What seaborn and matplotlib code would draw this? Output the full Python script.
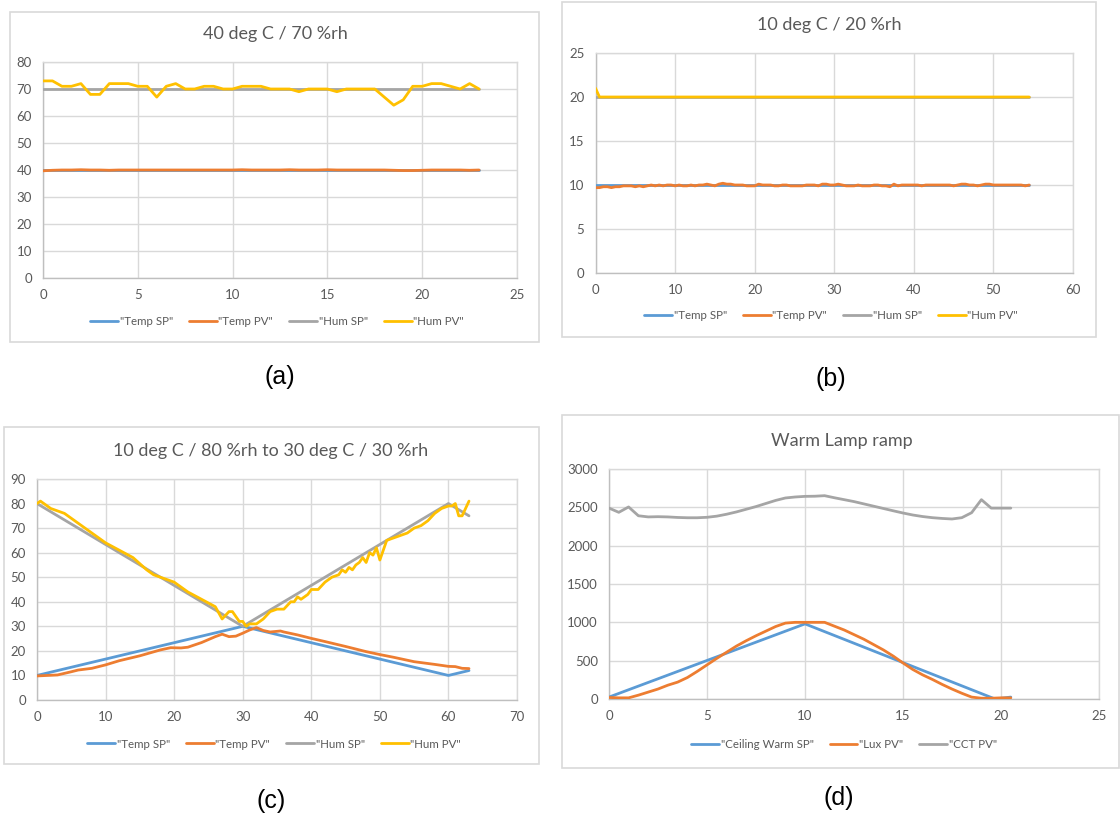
import numpy as np
import pandas as pd
import matplotlib
matplotlib.use("Agg")
import matplotlib.pyplot as plt
from matplotlib.patches import Rectangle
from matplotlib.lines import Line2D
import seaborn as sns

# ---------------- data ----------------
# (a) 40 deg C / 70 %rh
a_x = np.arange(0, 23.01, 0.5)
a_temp_sp_x = [0, 23]
a_temp_sp = [40, 40]
a_temp_pv = [39.7, 39.9, 40.0, 40.0, 40.1, 40.0, 40.0, 39.9, 40.0, 40.0,
             40.0, 40.0, 40.0, 40.0, 40.0, 40.0, 40.0, 40.0, 40.0, 40.0,
             40.0, 40.1, 40.0, 40.0, 40.0, 40.0, 40.1, 40.0, 40.0, 40.0,
             40.1, 40.0, 40.0, 40.0, 40.0, 40.0, 40.0, 39.9, 39.8, 39.8,
             39.9, 40.0, 40.0, 40.0, 40.0, 39.9, 40.0]
a_hum_sp_x = [0, 23]
a_hum_sp = [70, 70]
a_hum_pv = [73, 73, 71, 71, 72, 68, 68, 72, 72, 72,
            71, 71, 67, 71, 72, 70, 70, 71, 71, 70,
            70, 71, 71, 71, 70, 70, 70, 69, 70, 70,
            70, 69, 70, 70, 70, 70, 67, 64, 66, 71,
            71, 72, 72, 71, 70, 72, 70]

# (b) 10 deg C / 20 %rh
b_x = np.arange(0, 54.51, 0.5)
b_temp_sp_x = [0, 54.5]
b_temp_sp = [10, 10]
b_temp_pv = [9.7, 9.7, 9.8, 9.8, 9.7, 9.8, 9.8, 9.9, 9.9, 9.9, 9.8, 9.9, 9.8, 9.9, 10.0,
             9.9, 10.0, 9.9, 10.0, 10.0, 9.9, 10.0, 9.9, 9.9, 10.0, 9.9, 10.0, 10.0, 10.1, 10.0, 9.9,
             10.1, 10.2, 10.1, 10.1, 10.0, 10.0, 10.0, 9.9, 9.9, 9.9, 10.1, 10.0, 10.0, 10.0, 9.9, 9.9,
             10.0, 10.0, 9.9, 9.9, 9.9, 9.9, 10.0, 10.0, 10.0, 9.9, 10.1, 10.1, 10.0, 10.0, 10.1, 10.0,
             9.9, 9.9, 9.9, 10.0, 9.9, 9.9, 9.9, 10.0, 10.0, 9.9, 9.9, 9.8, 10.1, 9.9, 10.0, 10.0,
             10.0, 10.0, 10.0, 9.9, 10.0, 10.0, 10.0, 10.0, 10.0, 10.0, 10.0, 9.9, 10.0, 10.1, 10.1, 10.0,
             10.0, 9.9, 10.0, 10.1, 10.1, 10.0, 10.0, 10.0, 10.0, 10.0, 10.0, 10.0, 10.0, 9.9, 10.0]
b_hum_sp_x = [0, 54.5]
b_hum_sp = [20, 20]
b_hum_pv_x = [0, 0.5, 54.5]
b_hum_pv = [21, 20, 20]

# (c) 10 deg C / 80 %rh to 30 deg C / 30 %rh
c_temp_sp_x = [0, 30, 60, 63]
c_temp_sp = [10, 30, 10, 12]
c_temp_pv_x = [0, 3, 5, 6, 8, 10, 12, 15, 18, 19.5, 21, 22, 24, 26, 27, 28, 29, 30,
               31, 32, 33, 34, 35.5, 36, 38, 40, 42, 45, 48, 50, 52, 55, 58, 60, 61, 62, 63]
c_temp_pv = [9.8, 10.2, 11.5, 12.2, 12.9, 14.3, 16.0, 18.0, 20.4, 21.3, 21.2, 21.5, 23.4,
             25.8, 26.8, 25.8, 26.0, 27.2, 28.5, 29.5, 28.3, 27.7, 28.1, 27.7, 26.5, 25.1,
             23.8, 21.8, 19.7, 18.5, 17.4, 15.6, 14.5, 13.7, 13.6, 12.9, 12.8]
c_hum_sp_x = [0, 30, 60, 63]
c_hum_sp = [80, 30, 80, 75]
c_hum_pv_x = [0, 0.5, 2, 4, 6, 7, 8, 10, 12, 14, 16, 17, 19, 20, 22, 24, 26, 27, 28, 28.5,
              29.5, 30, 30.5, 31, 32, 33, 34, 35, 36, 37, 37.5, 38, 38.5, 39, 39.5, 40, 41,
              42, 43, 44, 44.5, 45, 45.5, 46, 46.5, 47, 47.5, 48, 48.5, 49, 49.5, 50, 50.5,
              51, 52, 53, 54, 55, 56, 57, 58, 59, 60, 60.5, 61, 61.5, 62, 63]
c_hum_pv = [80, 81, 78, 76, 72, 70, 68, 64, 61, 58, 53, 51, 49, 48, 44, 41, 38, 33, 36, 36,
            32, 32, 30, 31, 31, 33, 36, 37, 37, 40, 40, 42, 41, 42, 43, 45, 45,
            48, 50, 51, 53, 52, 54, 53, 55, 56, 58, 56, 60, 59, 62, 57, 61,
            65, 66, 67, 68, 70, 71, 73, 76, 78, 79, 79, 80, 75, 75, 81]

# (d) Warm Lamp ramp
d_x = np.arange(0, 20.51, 0.5)
d_sp_x = [0, 10, 19.7, 20.5]
d_sp = [25, 980, 0, 25]
d_lux = [20, 15, 15, 50, 90, 130, 180, 220, 280, 360,
         445, 530, 610, 690, 760, 825, 885, 945, 990, 1000,
         1000, 1000, 1000, 950, 900, 840, 780, 710, 640, 560,
         470, 385, 315, 255, 190, 130, 75, 25, 10, 10,
         15, 15]
d_cct = [2490, 2435, 2505, 2390, 2375, 2378, 2375, 2368, 2364, 2364,
         2370, 2385, 2410, 2440, 2475, 2510, 2550, 2590, 2622, 2635,
         2643, 2645, 2652, 2625, 2600, 2575, 2545, 2515, 2485, 2455,
         2426, 2400, 2380, 2365, 2355, 2348, 2365, 2430, 2600, 2490,
         2490, 2490]

titles = ["40 deg C / 70 %rh", "10 deg C / 20 %rh",
          "10 deg C / 80 %rh to 30 deg C / 30 %rh", "Warm Lamp ramp"]
panel_labels = ["(a)", "(b)", "(c)", "(d)"]
leg4 = ['"Temp SP"', '"Temp PV"', '"Hum SP"', '"Hum PV"']
leg3 = ['"Ceiling Warm SP"', '"Lux PV"', '"CCT PV"']

BLUE, ORANGE, GRAY, YELLOW = "#5B9BD5", "#ED7D31", "#A5A5A5", "#FFC000"
TXT = "#595959"

# ---------------- figure ----------------
sns.set_theme(style="white")
plt.rcParams["font.family"] = ["Lato", "DejaVu Sans"]

W, H = 1120, 819
fig = plt.figure(figsize=(W / 100, H / 100), dpi=100)
fig.patch.set_facecolor("white")


def px_rect(x0, y0, x1, y1):
    return [x0 / W, 1 - y1 / H, (x1 - x0) / W, (y1 - y0) / H]


def fpt(x, y):
    return x / W, 1 - y / H


# outer chart borders
for (x0, y0, x1, y1) in [(10, 12, 539, 342), (562, 2, 1096, 337),
                         (4, 427, 539, 764), (562, 415, 1119, 768)]:
    fig.patches.append(Rectangle((x0 / W, 1 - y1 / H), (x1 - x0) / W, (y1 - y0) / H,
                                 transform=fig.transFigure, fill=False,
                                 edgecolor="#D9D9D9", lw=1.2, zorder=0))

axes_px = [(43.0, 62, 517, 278), (595.5, 53, 1073, 273),
           (37.0, 479, 517, 700), (609.0, 469, 1099, 699)]
limits = [((0, 25), (0, 80), 5, 10), ((0, 60), (0, 25), 10, 5),
          ((0, 70), (0, 90), 10, 10), ((0, 25), (0, 3000), 5, 500)]
title_pos = [(275, 34), (829, 25), (271, 451), (842, 441)]
legend_pos = [(277, 322), (831, 316), (274, 744), (844, 745)]
label_pos = [(280, 377), (831, 379), (271, 801), (839, 798)]

series = [
    [(a_temp_sp_x, a_temp_sp, BLUE), (a_x, a_temp_pv, ORANGE),
     (a_hum_sp_x, a_hum_sp, GRAY), (a_x, a_hum_pv, YELLOW)],
    [(b_temp_sp_x, b_temp_sp, BLUE), (b_x, b_temp_pv, ORANGE),
     (b_hum_sp_x, b_hum_sp, GRAY), (b_hum_pv_x, b_hum_pv, YELLOW)],
    [(c_temp_sp_x, c_temp_sp, BLUE), (c_temp_pv_x, c_temp_pv, ORANGE),
     (c_hum_sp_x, c_hum_sp, GRAY), (c_hum_pv_x, c_hum_pv, YELLOW)],
    [(d_sp_x, d_sp, BLUE), (d_x, d_lux, ORANGE), (d_x, d_cct, GRAY)],
]
legends = [leg4, leg4, leg4, leg3]

for i in range(4):
    ax = fig.add_axes(px_rect(*axes_px[i]))
    xl, yl, xs, ys = limits[i]
    for j, (xv, yv, col) in enumerate(series[i]):
        df = pd.DataFrame({"x": np.asarray(xv, float), "y": np.asarray(yv, float)})
        sns.lineplot(data=df, x="x", y="y", ax=ax, color=col, linewidth=2.0,
                     estimator=None, legend=False, zorder=3 + j)
    ax.set_xlim(*xl)
    ax.set_ylim(*yl)
    ax.set_xticks(np.arange(xl[0], xl[1] + 0.001, xs))
    ax.set_yticks(np.arange(yl[0], yl[1] + 0.001, ys))
    ax.set_xlabel("")
    ax.set_ylabel("")
    ax.grid(True, color="#D9D9D9", lw=1.0)
    ax.set_axisbelow(True)
    for s in ["top", "right"]:
        ax.spines[s].set_color("#D9D9D9")
        ax.spines[s].set_linewidth(1.0)
    for s in ["left", "bottom"]:
        ax.spines[s].set_color("#BFBFBF")
        ax.spines[s].set_linewidth(1.0)
    ax.tick_params(axis="both", length=0, labelsize=9.5, colors=TXT)
    ax.tick_params(axis="y", pad=8)
    ax.tick_params(axis="x", pad=8)

    handles = [Line2D([], [], color=c, lw=2.0) for (_, _, c) in series[i]]
    lx, ly = fpt(*legend_pos[i])
    ax.legend(handles, legends[i], loc="center", bbox_to_anchor=(lx, ly),
              bbox_transform=fig.transFigure, ncol=len(handles), frameon=False,
              fontsize=8.3, handlelength=2.4, handletextpad=0.15, columnspacing=1.4,
              labelcolor=TXT)

    tx, ty = fpt(*title_pos[i])
    fig.text(tx, ty, titles[i], ha="center", va="center", fontsize=13, color=TXT)
    px_, py_ = fpt(*label_pos[i])
    fig.text(px_, py_, panel_labels[i], ha="center", va="center", fontsize=18,
             color="black", family=["Liberation Sans", "DejaVu Sans"])

fig.savefig("out.png", dpi=100, facecolor="white")
